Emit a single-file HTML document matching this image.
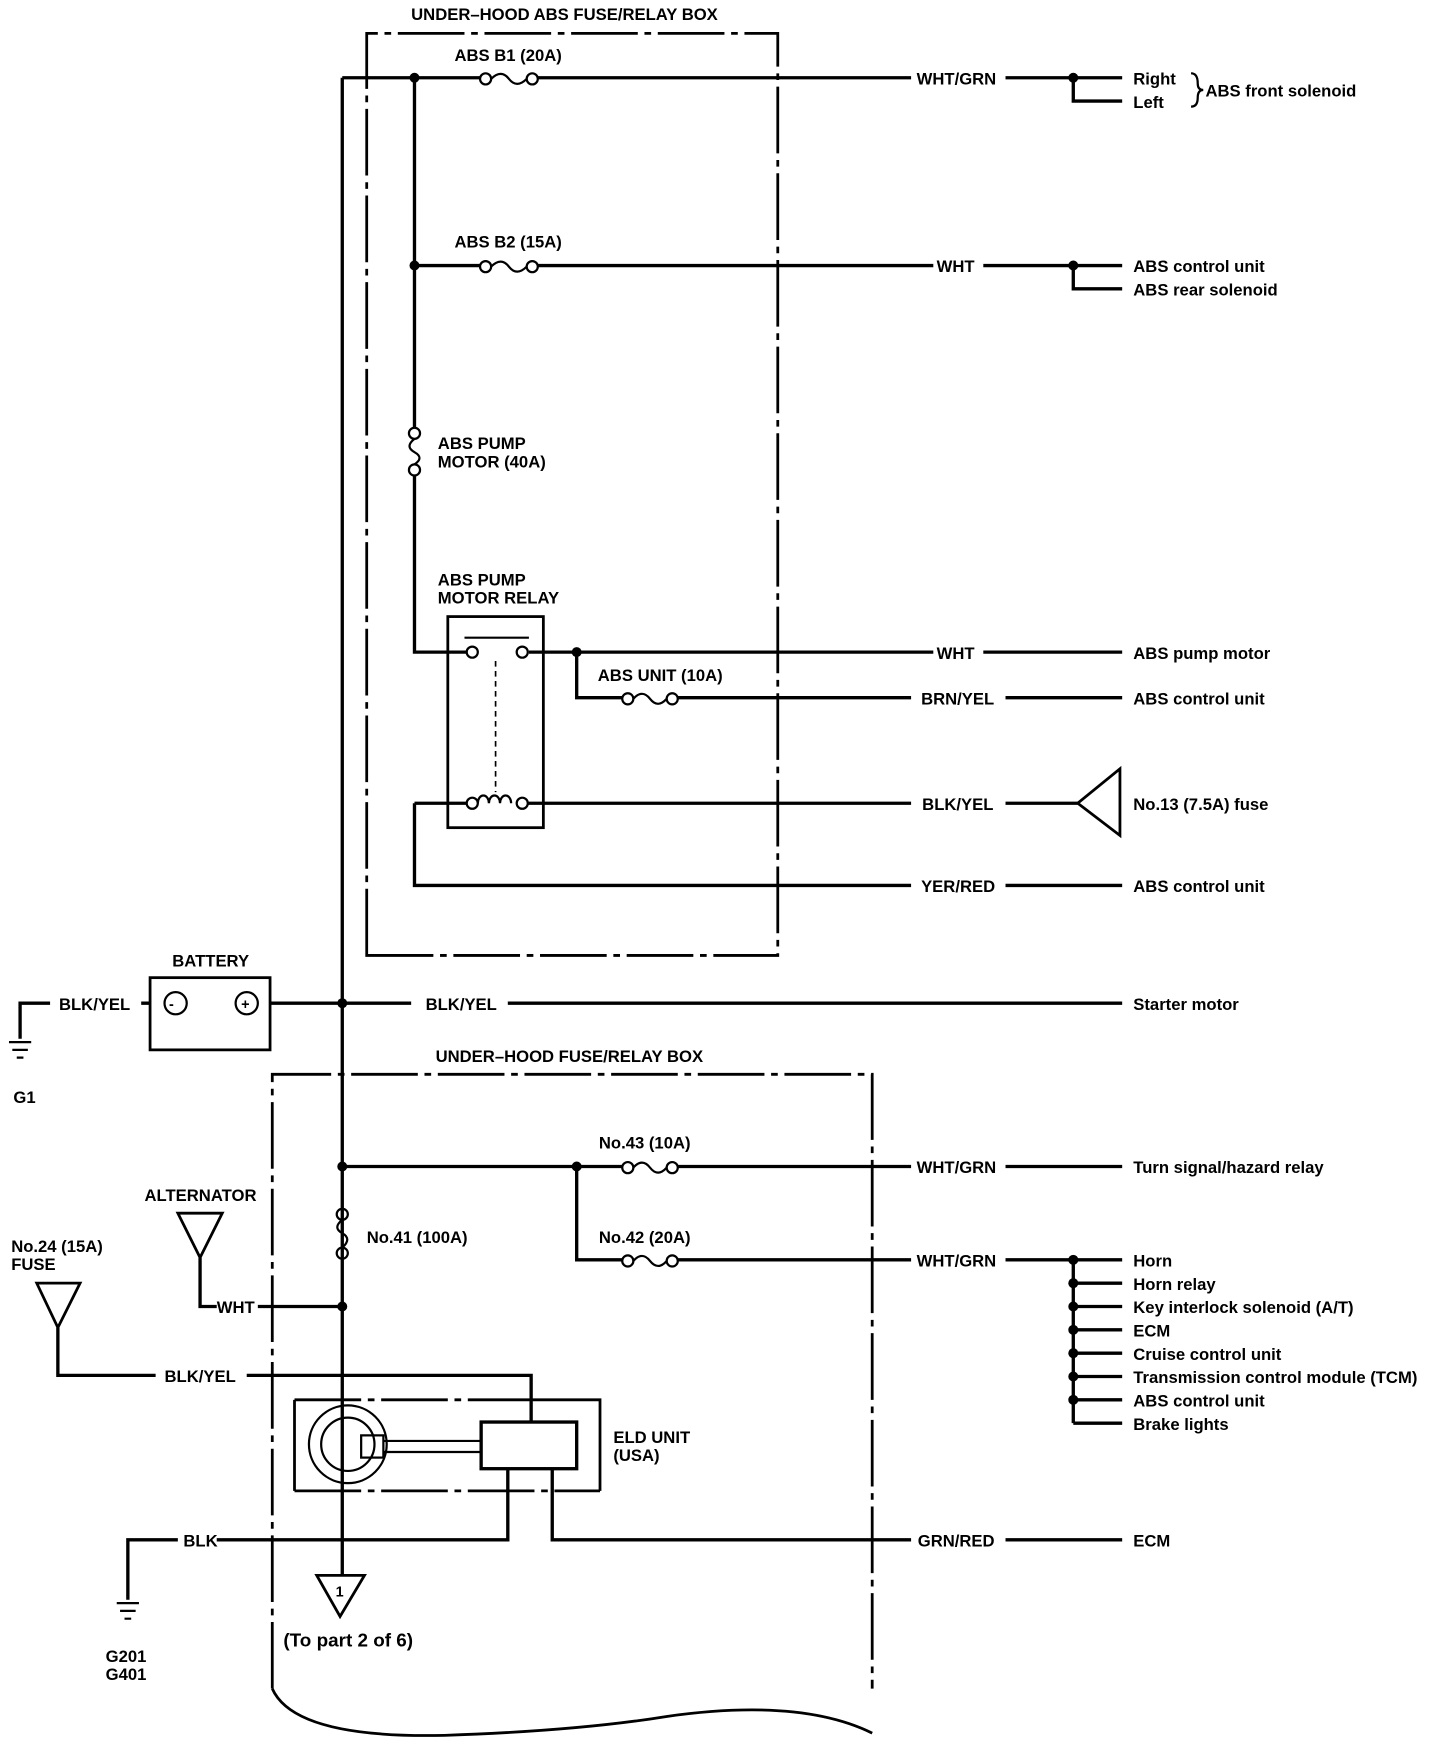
<!DOCTYPE html>
<html><head><meta charset="utf-8"><style>
html,body{margin:0;padding:0;background:#fff}
svg{display:block}
text{font-family:"Liberation Sans Narrow","Liberation Sans",sans-serif;font-size:15px;font-weight:bold;fill:#000}
</style></head><body>
<svg width="1440" height="1742" viewBox="0 0 1296 1568" xmlns="http://www.w3.org/2000/svg">
<g fill="none" stroke="#000" stroke-width="3">
<g stroke-dasharray="60,6,6,6" stroke-width="2.5">
<path d="M330 860 V30 H700 V860 Z"/>
<path d="M245 1520 V967 H785 V1520"/>
<path d="M265 1260 H478 M265 1342 H540"/>
</g>
<path d="M245 1520 Q265 1565 400 1562 Q520 1558 600 1545 Q720 1528 785 1560" stroke-width="2.5"/>
<path d="M308 70 V1418"/>
<path d="M308 70 H432 M484 70 H820 M905 70 H1010 M966 70 V91 H1010"/>
<path d="M373 70 V385 M373 428 V587 H420"/>
<path d="M373 239 H432 M484 239 H840 M885 239 H1010 M966 239 V260 H1010"/>
<rect x="403" y="555" width="86" height="190" stroke-width="2.5"/>
<path d="M476 587 H840 M885 587 H1010 M519 587 V628 H560 M610 628 H820 M905 628 H1010"/>
<path d="M418 574 H476" stroke-width="2"/>
<path d="M446 595 V713" stroke-width="1.5" stroke-dasharray="5,4"/>
<path d="M373 723 H420 M475 723 H820 M905 723 H970 M373 723 V797 H820 M905 797 H1010"/>
<path d="M970 723 L1008 692 V752 Z" stroke-width="2.5"/>
<rect x="135" y="880" width="108" height="65" stroke-width="2.5"/>
<path d="M243 903 H370 M457 903 H1010 M127 903 H135 M45 903 H18 V935"/>
<path d="M308 1050 H560 M610 1050 H820 M905 1050 H1010 M519 1050 V1134 H560 M610 1134 H820 M905 1134 H1010 M966 1134 V1281"/>
<path d="M966 1155 H1010 M966 1176 H1010 M966 1197 H1010 M966 1218 H1010 M966 1239 H1010 M966 1260 H1010 M966 1281 H1010"/>
<path d="M180 1132 V1176 H195 M232 1176 H308"/>
<path d="M160 1092 H200 L180 1132 Z" stroke-width="2.5"/>
<path d="M33 1155 H72 L52 1195 Z" stroke-width="2.5"/>
<path d="M52 1195 V1238 H140 M222 1238 H478 V1280"/>
<path d="M478 1260 H540 V1342 M265 1260 V1342" stroke-width="2.5"/>
<rect x="433" y="1280" width="86" height="42"/>
<circle cx="313" cy="1300" r="35" stroke-width="2"/>
<circle cx="313" cy="1300" r="24" stroke-width="2"/>
<rect x="325" y="1292" width="20" height="20" stroke-width="2"/>
<path d="M345 1297 H433 M345 1307 H433" stroke-width="2"/>
<path d="M115 1440 V1386 H160 M195 1386 H457 V1322 M497 1322 V1386 H820 M905 1386 H1010"/>
<path d="M285 1418 H328 L306 1455 Z" stroke-width="2.5"/>
<path d="M8 938 H28 M11 945 H25 M15 952 H21" stroke-width="2"/>
<path d="M105 1443 H125 M108 1450 H122 M112 1457 H118" stroke-width="2"/>
<g stroke-width="2">
<circle cx="437" cy="71" r="5"/><circle cx="479" cy="71" r="5"/><path d="M442 71 Q451 62 458 71 Q465 80 474 71"/>
<circle cx="437" cy="240" r="5"/><circle cx="479" cy="240" r="5"/><path d="M442 240 Q451 231 458 240 Q465 249 474 240"/>
<circle cx="565" cy="629" r="5"/><circle cx="605" cy="629" r="5"/><path d="M570 629 Q578 620 585 629 Q592 638 600 629"/>
<circle cx="565" cy="1051" r="5"/><circle cx="605" cy="1051" r="5"/><path d="M570 1051 Q578 1042 585 1051 Q592 1060 600 1051"/>
<circle cx="565" cy="1135" r="5"/><circle cx="605" cy="1135" r="5"/><path d="M570 1135 Q578 1126 585 1135 Q592 1144 600 1135"/>
<circle cx="373" cy="390" r="5"/><circle cx="373" cy="423" r="5"/><path d="M373 395 Q364 402 373 407 Q382 412 373 418"/>
<circle cx="308" cy="1093" r="5"/><circle cx="308" cy="1128" r="5"/><path d="M308 1098 Q299 1105 308 1110 Q317 1115 308 1123"/>
<circle cx="425" cy="587" r="5"/><circle cx="470" cy="587" r="5"/>
<circle cx="425" cy="723" r="5"/><circle cx="470" cy="723" r="5"/>
<path d="M430 723 a5 7 0 0 1 10 0 a5 7 0 0 1 10 0 a5 7 0 0 1 10 0" />
<circle cx="158" cy="903" r="10"/><circle cx="222" cy="903" r="10"/>
<path d="M1072 66 Q1078 66 1078 75 Q1078 81 1083 81 Q1078 81 1078 88 Q1078 96 1072 96"/>
</g>
</g>
<g fill="#000">
<circle cx="373" cy="70" r="4.5"/><circle cx="966" cy="70" r="4.5"/><circle cx="373" cy="239" r="4.5"/><circle cx="966" cy="239" r="4.5"/>
<circle cx="519" cy="587" r="4.5"/><circle cx="308" cy="903" r="4.5"/><circle cx="308" cy="1050" r="4.5"/><circle cx="519" cy="1050" r="4.5"/>
<circle cx="966" cy="1134" r="4.5"/><circle cx="966" cy="1155" r="4.5"/><circle cx="966" cy="1176" r="4.5"/><circle cx="966" cy="1197" r="4.5"/><circle cx="966" cy="1218" r="4.5"/><circle cx="966" cy="1239" r="4.5"/><circle cx="966" cy="1260" r="4.5"/>
<circle cx="308" cy="1176" r="4.5"/>
</g>
<text x="370" y="18">UNDER–HOOD ABS FUSE/RELAY BOX</text>
<text x="409" y="55">ABS B1 (20A)</text>
<text x="825" y="76">WHT/GRN</text>
<text x="1020" y="76">Right</text><text x="1020" y="97">Left</text>
<text x="1085" y="87">ABS front solenoid</text>
<text x="409" y="223">ABS B2 (15A)</text>
<text x="843" y="245">WHT</text>
<text x="1020" y="245">ABS control unit</text><text x="1020" y="266">ABS rear solenoid</text>
<text x="394" y="404">ABS PUMP</text><text x="394" y="421">MOTOR (40A)</text>
<text x="394" y="527">ABS PUMP</text><text x="394" y="543">MOTOR RELAY</text>
<text x="843" y="593">WHT</text><text x="1020" y="593">ABS pump motor</text>
<text x="538" y="613">ABS UNIT (10A)</text>
<text x="829" y="634">BRN/YEL</text><text x="1020" y="634">ABS control unit</text>
<text x="830" y="729">BLK/YEL</text><text x="1020" y="729">No.13 (7.5A) fuse</text>
<text x="829" y="803">YER/RED</text><text x="1020" y="803">ABS control unit</text>
<text x="155" y="870">BATTERY</text>
<text x="53" y="909">BLK/YEL</text><text x="383" y="909">BLK/YEL</text><text x="1020" y="909">Starter motor</text>
<text x="152" y="908" style="font-size:13px">-</text><text x="217" y="908" style="font-size:13px">+</text>
<text x="12" y="993">G1</text>
<text x="392" y="956">UNDER–HOOD FUSE/RELAY BOX</text>
<text x="539" y="1034">No.43 (10A)</text>
<text x="825" y="1056">WHT/GRN</text><text x="1020" y="1056">Turn signal/hazard relay</text>
<text x="130" y="1081">ALTERNATOR</text>
<text x="330" y="1119">No.41 (100A)</text>
<text x="539" y="1119">No.42 (20A)</text>
<text x="825" y="1140">WHT/GRN</text>
<text x="1020" y="1140">Horn</text><text x="1020" y="1161">Horn relay</text><text x="1020" y="1182">Key interlock solenoid (A/T)</text><text x="1020" y="1203">ECM</text><text x="1020" y="1224">Cruise control unit</text><text x="1020" y="1245">Transmission control module (TCM)</text><text x="1020" y="1266">ABS control unit</text><text x="1020" y="1287">Brake lights</text>
<text x="10" y="1127">No.24 (15A)</text><text x="10" y="1143">FUSE</text>
<text x="195" y="1182">WHT</text>
<text x="148" y="1244">BLK/YEL</text>
<text x="552" y="1299">ELD UNIT</text><text x="552" y="1315">(USA)</text>
<text x="165" y="1392">BLK</text><text x="826" y="1392">GRN/RED</text><text x="1020" y="1392">ECM</text>
<text x="302" y="1437" style="font-size:13px">1</text>
<text x="255" y="1482" style="font-size:17px">(To part 2 of 6)</text>
<text x="95" y="1496">G201</text><text x="95" y="1512">G401</text>
</svg>
</body></html>
